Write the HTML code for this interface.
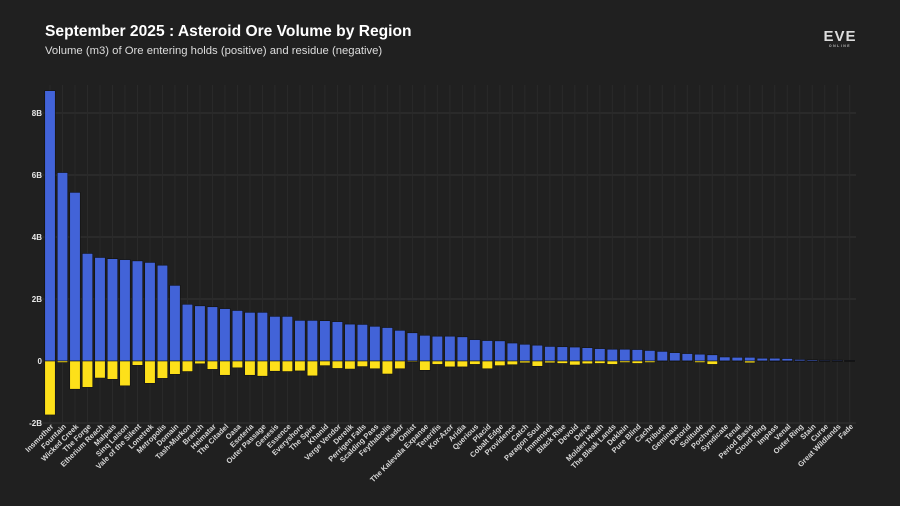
<!DOCTYPE html>
<html><head><meta charset="utf-8"><style>
html,body{margin:0;padding:0;background:#202020;}
svg{display:block;font-family:"Liberation Sans",sans-serif;}
</style></head><body>
<svg id="chart" width="900" height="506" viewBox="0 0 900 506">
<rect x="0" y="0" width="900" height="506" fill="#202020"/>
<text x="45" y="36" fill="#ffffff" font-size="15.6" font-weight="bold">September 2025 : Asteroid Ore Volume by Region</text>
<text x="45" y="54" fill="#dddddd" font-size="11.3">Volume (m3) of Ore entering holds (positive) and residue (negative)</text>
<g>
<text x="840" y="41" fill="#dddddd" font-size="15" font-weight="bold" text-anchor="middle" letter-spacing="1">EVE</text>
<text x="840" y="47" fill="#bbbbbb" font-size="3.5" font-weight="bold" text-anchor="middle" letter-spacing="1.5">ONLINE</text>
</g>
<g id="grid"></g>
<g id="bars"></g>
<g id="yaxis"></g>
<g id="xaxis"></g>
</svg>
<script>
const regions = ["Insmother","Fountain","Wicked Creek","The Forge","Etherium Reach","Malpais","Sinq Laison","Vale of the Silent","Lonetrek","Metropolis","Domain","Tash-Murkon","Branch","Heimatar","The Citadel","Oasa","Esoteria","Outer Passage","Genesis","Essence","Everyshore","The Spire","Khanid","Verge Vendor","Derelik","Perrigen Falls","Scalding Pass","Feythabolis","Kador","Omist","The Kalevala Expanse","Tenerifis","Kor-Azor","Aridia","Querious","Placid","Cobalt Edge","Providence","Catch","Paragon Soul","Immensea","Black Rise","Devoid","Delve","Molden Heath","The Bleak Lands","Deklein","Pure Blind","Cache","Tribute","Geminate","Detorid","Solitude","Pochven","Syndicate","Tenal","Period Basis","Cloud Ring","Impass","Venal","Outer Ring","Stain","Curse","Great Wildlands","Fade"];
const oreVolume = [8.72,6.08,5.44,3.47,3.34,3.30,3.27,3.23,3.18,3.09,2.44,1.83,1.78,1.75,1.69,1.63,1.57,1.57,1.44,1.44,1.31,1.31,1.30,1.27,1.19,1.18,1.12,1.08,0.99,0.91,0.83,0.80,0.80,0.78,0.69,0.66,0.65,0.58,0.54,0.51,0.47,0.46,0.45,0.43,0.40,0.38,0.38,0.37,0.34,0.31,0.27,0.24,0.22,0.20,0.13,0.12,0.12,0.09,0.09,0.08,0.05,0.04,0.03,0.03,0.02];
const residue = [-1.74,-0.05,-0.91,-0.85,-0.55,-0.59,-0.80,-0.14,-0.72,-0.56,-0.43,-0.34,-0.09,-0.27,-0.46,-0.22,-0.46,-0.49,-0.33,-0.34,-0.32,-0.48,-0.15,-0.24,-0.26,-0.18,-0.25,-0.42,-0.25,-0.03,-0.30,-0.11,-0.19,-0.19,-0.11,-0.25,-0.15,-0.12,-0.06,-0.17,-0.06,-0.08,-0.13,-0.09,-0.08,-0.11,-0.05,-0.08,-0.05,-0.02,-0.02,-0.02,-0.05,-0.11,-0.02,-0.02,-0.06,-0.02,-0.01,-0.01,-0.01,-0.01,-0.01,-0.01,-0.01];
const yTicks = [-2,0,2,4,6,8];
const yTickLabels = ["-2B","0","2B","4B","6B","8B"];

const NS="http://www.w3.org/2000/svg";
const left=43.75, right=856, zeroY=361, pxPerB=31;
const step=(right-left)/regions.length, barW=10.5;
function xScale(i){return left+step*(i+0.5);}
function yScale(v){return zeroY - v*pxPerB;}
function mk(tag,attrs,parent){const e=document.createElementNS(NS,tag);for(const k in attrs)e.setAttribute(k,attrs[k]);parent.appendChild(e);return e;}
const grid=document.getElementById('grid'),bars=document.getElementById('bars'),ya=document.getElementById('yaxis'),xa=document.getElementById('xaxis');
yTicks.forEach((t,i)=>{
  const y=yScale(t);
  const l=mk('line',{x1:40,x2:right,y1:y,y2:y,stroke:'#333333','stroke-width':1},grid);
  
  
  const tx=mk('text',{x:42,y:y+3,fill:'#e8e8e8','font-size':8,'font-weight':'bold','text-anchor':'end'},ya);
  tx.textContent=yTickLabels[i];
  
  
});
regions.forEach((r,i)=>{
  const cx=xScale(i);
  const g=mk('line',{x1:cx,x2:cx,y1:85,y2:432,stroke:'#2a2a2a','stroke-width':1},grid);
  
  
  const p=mk('rect',{x:cx-barW/2,y:yScale(oreVolume[i]),width:barW,height:zeroY-yScale(oreVolume[i]),fill:'#4263d8',stroke:'#111','stroke-width':0.6},bars);
  
  
  const n=mk('rect',{x:cx-barW/2,y:zeroY,width:barW,height:Math.max(0.5,yScale(residue[i])-zeroY),fill:'#fde01a',stroke:'#111','stroke-width':0.6},bars);
  
  
  const t=mk('text',{x:cx+4,y:427,fill:'#d8d8d8','font-size':7.5,'font-weight':'bold','text-anchor':'end',transform:`rotate(-45 ${cx+4} 427)`},xa);
  t.textContent=r;
  
  
});
</script>
</body></html>
